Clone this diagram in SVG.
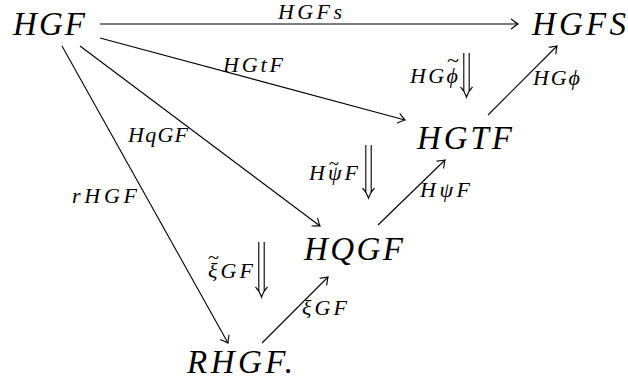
<svg xmlns="http://www.w3.org/2000/svg" width="628" height="385" viewBox="0 0 628 385">
  <style>
    text { font-family: 'Liberation Serif', 'Times New Roman', serif; font-style: italic; fill: #000; }
    .node { font-size: 33px; }
    .lbl { font-size: 22px; }
    .tl { font-size: 18px; font-style: normal; }
    .edge { stroke: #000; stroke-width: 1.1; fill: none; marker-end: url(#to); }
    .dbl { stroke: #000; stroke-width: 1.1; fill: none; }
  </style>
  <defs>
    <marker id="to" markerUnits="userSpaceOnUse" markerWidth="20" markerHeight="20" viewBox="-10 -10 20 20" refX="0" refY="0" orient="auto" overflow="visible">
      <path d="M -6.5 -4.8 Q -1.8 -1 0 0 Q -1.8 1 -6.5 4.8" stroke="#000" stroke-width="1.1" fill="none" stroke-linecap="round"/>
    </marker>
  </defs>
  <rect width="628" height="385" fill="#fff"/>

  <g id="connectors">
    <line class="edge" x1="100" y1="24" x2="518" y2="24"/>
    <line class="edge" x1="100" y1="38" x2="405" y2="120"/>
    <line class="edge" x1="80" y1="46" x2="320" y2="226"/>
    <line class="edge" x1="62" y1="46" x2="228" y2="343"/>
    <line class="edge" x1="262" y1="343" x2="328" y2="277"/>
    <line class="edge" x1="378" y1="225" x2="445" y2="160"/>
    <line class="edge" x1="488" y1="115" x2="557" y2="46"/>
    <text class="lbl" x="278" y="19" textLength="64" lengthAdjust="spacing">HGFs</text>
    <text class="lbl" x="223" y="72" textLength="60" lengthAdjust="spacing">HGtF</text>
    <text class="lbl" x="128" y="142" textLength="60" lengthAdjust="spacing">HqGF</text>
    <text class="lbl" x="72" y="203" textLength="65" lengthAdjust="spacing">rHGF</text>
    <text class="lbl" x="302" y="315" textLength="45" lengthAdjust="spacing">ξGF</text>
    <text class="lbl" x="420" y="197" textLength="50" lengthAdjust="spacing">HψF</text>
    <text class="lbl" x="533" y="85" textLength="47" lengthAdjust="spacing">HGϕ</text>
  </g>

  <g id="twocells">
    <g id="cell-phi">
      <path class="dbl" d="M 463.8 53 V 92 M 469.2 53 V 92 M 460.5 87 Q 465 91.5 466.5 97 Q 468 91.5 472.5 87"/>
      <text class="lbl" y="83"><tspan x="410" textLength="48" lengthAdjust="spacing">HGϕ</tspan><tspan class="tl" x="447" y="67" textLength="12" lengthAdjust="spacingAndGlyphs">~</tspan></text>
    </g>
    <g id="cell-psi">
      <path class="dbl" d="M 365.8 145 V 193 M 371.2 145 V 193 M 362.5 188 Q 367 192.5 368.5 198 Q 370 192.5 374.5 188"/>
      <text class="lbl" y="180"><tspan x="309" textLength="49" lengthAdjust="spacing">HψF</tspan><tspan class="tl" x="329" y="170" textLength="10" lengthAdjust="spacingAndGlyphs">~</tspan></text>
    </g>
    <g id="cell-xi">
      <path class="dbl" d="M 258.8 242 V 292 M 264.2 242 V 292 M 255.5 287 Q 260 291.5 261.5 297 Q 263 291.5 267.5 287"/>
      <text class="lbl" y="278"><tspan x="208" textLength="45" lengthAdjust="spacing">ξGF</tspan><tspan class="tl" x="208" y="264" textLength="11" lengthAdjust="spacingAndGlyphs">~</tspan></text>
    </g>
  </g>

  <g id="n-HGF"><text class="node" x="13" y="35" textLength="72" lengthAdjust="spacing">HGF</text></g>
  <g id="n-HGFS"><text class="node" x="532" y="35" textLength="94" lengthAdjust="spacing">HGFS</text></g>
  <g id="n-HGTF"><text class="node" x="417" y="149" textLength="95" lengthAdjust="spacing">HGTF</text></g>
  <g id="n-HQGF"><text class="node" x="304" y="260" textLength="99" lengthAdjust="spacing">HQGF</text></g>
  <g id="n-RHGF"><text class="node" x="187" y="373" textLength="106" lengthAdjust="spacing">RHGF.</text></g>
</svg>
